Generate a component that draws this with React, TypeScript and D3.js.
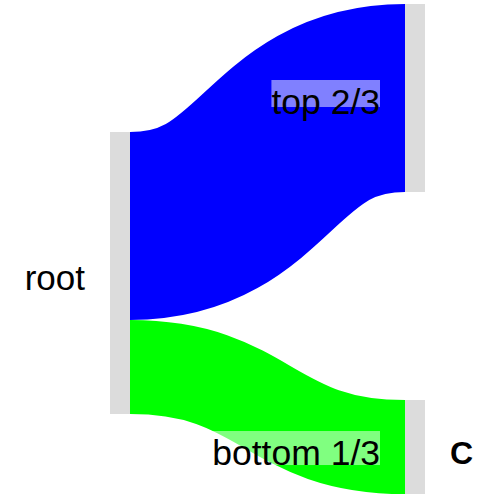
import React, { useEffect, useRef } from "react";
import * as d3 from "d3";

// ---- data ----
const nodeNames = ["root", "top", "bottom"];
const nodeColumns = [0, 1, 1];
const nodeOffsets = [1.362, 0, 4.213]; // vertical start of each node, in value units
const nodeLabels = ["root", "", "C"];
const nodeLabelSide = ["left", "none", "right"];

const linkSources = [0, 0];
const linkTargets = [1, 2];
const linkValues = [2, 1];
const linkColors = ["#0000ff", "#00ff00"];
const linkLabels = ["top 2/3", "bottom 1/3"];
const linkLabelDy = [16, 18];
const linkLabelRectBottom = [7, 0];

const FONT = "'Liberation Sans', Arial, Helvetica, sans-serif";

export default function App() {
  const ref = useRef<SVGSVGElement>(null);

  useEffect(() => {
    const svg = d3.select(ref.current);
    svg.selectAll("*").remove();

    const nodeWidth = 20;
    const x = d3.scaleLinear().domain([0, 1]).range([110, 405]);
    const y = d3.scaleLinear().domain([0, 5.2128]).range([4, 494]);
    const k = y(1) - y(0);

    const nodes = nodeNames.map((name, i) => {
      const out = d3.sum(linkValues.filter((_, j) => linkSources[j] === i));
      const inn = d3.sum(linkValues.filter((_, j) => linkTargets[j] === i));
      const value = Math.max(out, inn);
      const x0 = x(nodeColumns[i]);
      return {
        name,
        value,
        x0,
        x1: x0 + nodeWidth,
        y0: y(nodeOffsets[i]),
        y1: y(nodeOffsets[i] + value),
      };
    });

    const sOff = nodes.map((n) => n.y0);
    const tOff = nodes.map((n) => n.y0);
    const links = linkValues.map((v, i) => {
      const s = nodes[linkSources[i]];
      const t = nodes[linkTargets[i]];
      const w = v * k;
      const sy = sOff[linkSources[i]];
      sOff[linkSources[i]] += w;
      const ty = tOff[linkTargets[i]];
      tOff[linkTargets[i]] += w;
      return { s, t, w, sy: sy + w / 2, ty: ty + w / 2, color: linkColors[i], label: linkLabels[i], i };
    });

    const linkGen = d3
      .linkHorizontal<any, any>()
      .source((d: any) => [d.s.x1, d.sy])
      .target((d: any) => [d.t.x0, d.ty]);

    svg
      .append("g")
      .selectAll("path")
      .data(links)
      .join("path")
      .attr("d", linkGen as any)
      .attr("fill", "none")
      .attr("stroke", (d) => d.color)
      .attr("stroke-width", (d) => d.w);

    svg
      .append("g")
      .selectAll("rect")
      .data(nodes)
      .join("rect")
      .attr("x", (d) => d.x0)
      .attr("y", (d) => d.y0)
      .attr("width", (d) => d.x1 - d.x0)
      .attr("height", (d) => d.y1 - d.y0)
      .attr("fill", "#dcdcdc");

    // link labels with translucent background
    const lg = svg.append("g");
    links.forEach((d) => {
      const tx = d.t.x0 - 25;
      const base = (d.t.y0 + d.t.y1) / 2 + linkLabelDy[d.i];
      const rect = lg.append("rect");
      const text = lg
        .append("text")
        .attr("x", tx)
        .attr("y", base)
        .attr("text-anchor", "end")
        .attr("font-family", FONT)
        .attr("font-size", 35.5)
        .attr("fill", "#000")
        .text(d.label);
      const wdt = (text.node() as SVGTextElement).getComputedTextLength();
      rect
        .attr("x", tx - wdt)
        .attr("y", base - 34)
        .attr("width", wdt)
        .attr("height", 34 - linkLabelRectBottom[d.i])
        .attr("fill", "#fff")
        .attr("fill-opacity", 0.5);
    });

    // node labels
    svg
      .append("g")
      .selectAll("text")
      .data(nodes.filter((_, i) => nodeLabelSide[i] !== "none"))
      .join("text")
      .attr("x", (d) => (nodeLabelSide[nodes.indexOf(d)] === "left" ? d.x0 - 25 : d.x1 + 25))
      .attr("y", (d) => (d.y0 + d.y1) / 2 + 17)
      .attr("text-anchor", (d) => (nodeLabelSide[nodes.indexOf(d)] === "left" ? "end" : "start"))
      .attr("font-family", FONT)
      .attr("font-size", (d) => (nodeLabelSide[nodes.indexOf(d)] === "left" ? 35 : 32))
      .attr("font-weight", (d) => (nodeLabelSide[nodes.indexOf(d)] === "left" ? "normal" : "bold"))
      .attr("fill", "#000")
      .text((d) => nodeLabels[nodes.indexOf(d)]);
  }, []);

  return (
    <svg
      ref={ref}
      width={500}
      height={500}
      style={{ position: "absolute", left: 0, top: 0, background: "#fff" }}
    />
  );
}
